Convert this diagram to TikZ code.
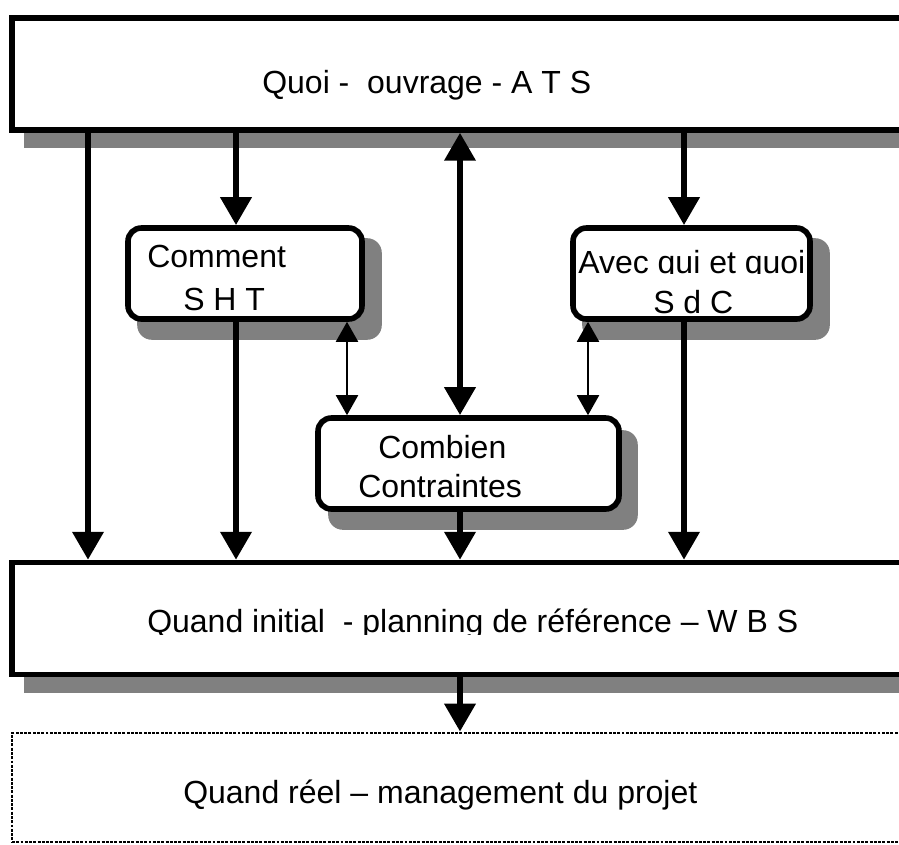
\documentclass[tikz,border=0pt]{standalone}
\usepackage{fontspec}
\setmainfont{Liberation Sans}
\usetikzlibrary{arrows.meta}
\definecolor{shadowgray}{RGB}{128,128,128}
\pgfdeclarelayer{bg}
\pgfsetlayers{bg,main}
\begin{document}
\begin{tikzpicture}[x=0.75pt,y=-0.75pt,
  sqbox/.style={draw, line width=4pt, fill=white, rectangle, minimum width=816pt, minimum height=84pt, inner sep=0pt},
  rbox/.style={draw, line width=4.2pt, fill=white, rounded corners=10pt, minimum height=68.25pt, inner sep=0pt},
  dotbox/.style={draw, line width=2pt, dash pattern=on 2.2pt off 1pt, fill=white, minimum width=816pt, minimum height=81.75pt, inner sep=0pt},
  lbl/.style={anchor=base west, inner sep=0pt, font=\fontsize{24pt}{29pt}\selectfont},
  shadowfill/.style={fill=shadowgray},
  thickarrow/.style={line width=5pt, -{Triangle[width=22.5pt,length=21pt]}},
  thickdouble/.style={line width=5pt, {Triangle[width=22.5pt,length=21pt]}-{Triangle[width=22.5pt,length=21pt]}},
  thinarrow/.style={line width=1.5pt, {Triangle[width=16.5pt,length=15pt]}-{Triangle[width=16.5pt,length=15pt]}},
]
\useasboundingbox (0,0) rectangle (899,844);
\clip (0,0) rectangle (899,844);

% boxes
\node[sqbox] (ats) at (556,74) {};
\node[sqbox] (wbs) at (556,618.5) {};
\node[rbox, minimum width=175.5pt] (sht) at (245,273.5) {};
\node[rbox, minimum width=177.75pt] (sdc) at (691.5,273.5) {};
\node[rbox, minimum width=225.75pt] (cc) at (468.5,463.5) {};
\node[dotbox] (reel) at (556,787.5) {};

% shadows
\begin{pgfonlayer}{bg}
  \fill[shadowfill] ([shift={(15,15)}]ats.north west) rectangle ([shift={(15,15)}]ats.south east);
  \fill[shadowfill] ([shift={(15,16)}]wbs.north west) rectangle ([shift={(15,16)}]wbs.south east);
  \fill[shadowfill, rounded corners=11pt] ([shift={(12,13)}]sht.north west) rectangle ([shift={(17,18)}]sht.south east);
  \fill[shadowfill, rounded corners=11pt] ([shift={(12,13)}]sdc.north west) rectangle ([shift={(17,18)}]sdc.south east);
  \fill[shadowfill, rounded corners=11pt] ([shift={(13,15)}]cc.north west) rectangle ([shift={(16,18)}]cc.south east);
\end{pgfonlayer}

% arrow columns
\coordinate (xa) at (88,0);
\coordinate (xb) at (236,0);
\coordinate (xc) at (460,0);
\coordinate (xd) at (684,0);
\coordinate (xe) at (347,0);
\coordinate (xf) at (588,0);

\draw[thickarrow] (ats.south -| xa) -- (wbs.north -| xa);
\draw[thickarrow] (ats.south -| xb) -- (sht.north -| xb);
\draw[thickarrow] (sht.south -| xb) -- (wbs.north -| xb);
\draw[thickdouble] (ats.south -| xc) -- (cc.north -| xc);
\draw[thickarrow] (cc.south -| xc) -- (wbs.north -| xc);
\draw[thickarrow] (wbs.south -| xc) -- (reel.north -| xc);
\draw[thickarrow] (ats.south -| xd) -- (sdc.north -| xd);
\draw[thickarrow] (sdc.south -| xd) -- (wbs.north -| xd);
\draw[thinarrow] (sht.south -| xe) -- (cc.north -| xe);
\draw[thinarrow] (sdc.south -| xf) -- (cc.north -| xf);

% texts
\node[lbl] (t1) at (262,93) {Quoi -\ \ ouvrage - A T S};
\node[lbl] (t2) at (147,267) {Comment};
\node[lbl] (t3) at (183,310) {S H T};
\begin{scope}
  \clip (570,235) rectangle (815,273.5);
  \node[lbl] (t4) at (578,273) {Avec qui et quoi};
\end{scope}
\node[lbl] (t5) at (653,313) {S d C};
\node[lbl] (t6) at (378,458) {Combien};
\node[lbl] (t7) at (358,497) {Contraintes};
\begin{scope}
  \clip (15,570) rectangle (899,634);
  \node[lbl] (t8) at (147,632) {Quand initial\ \ - planning de référence – W B S};
\end{scope}
\node[lbl] (t9) at (183,803) {Quand réel – management du projet};
\end{tikzpicture}
\end{document}
